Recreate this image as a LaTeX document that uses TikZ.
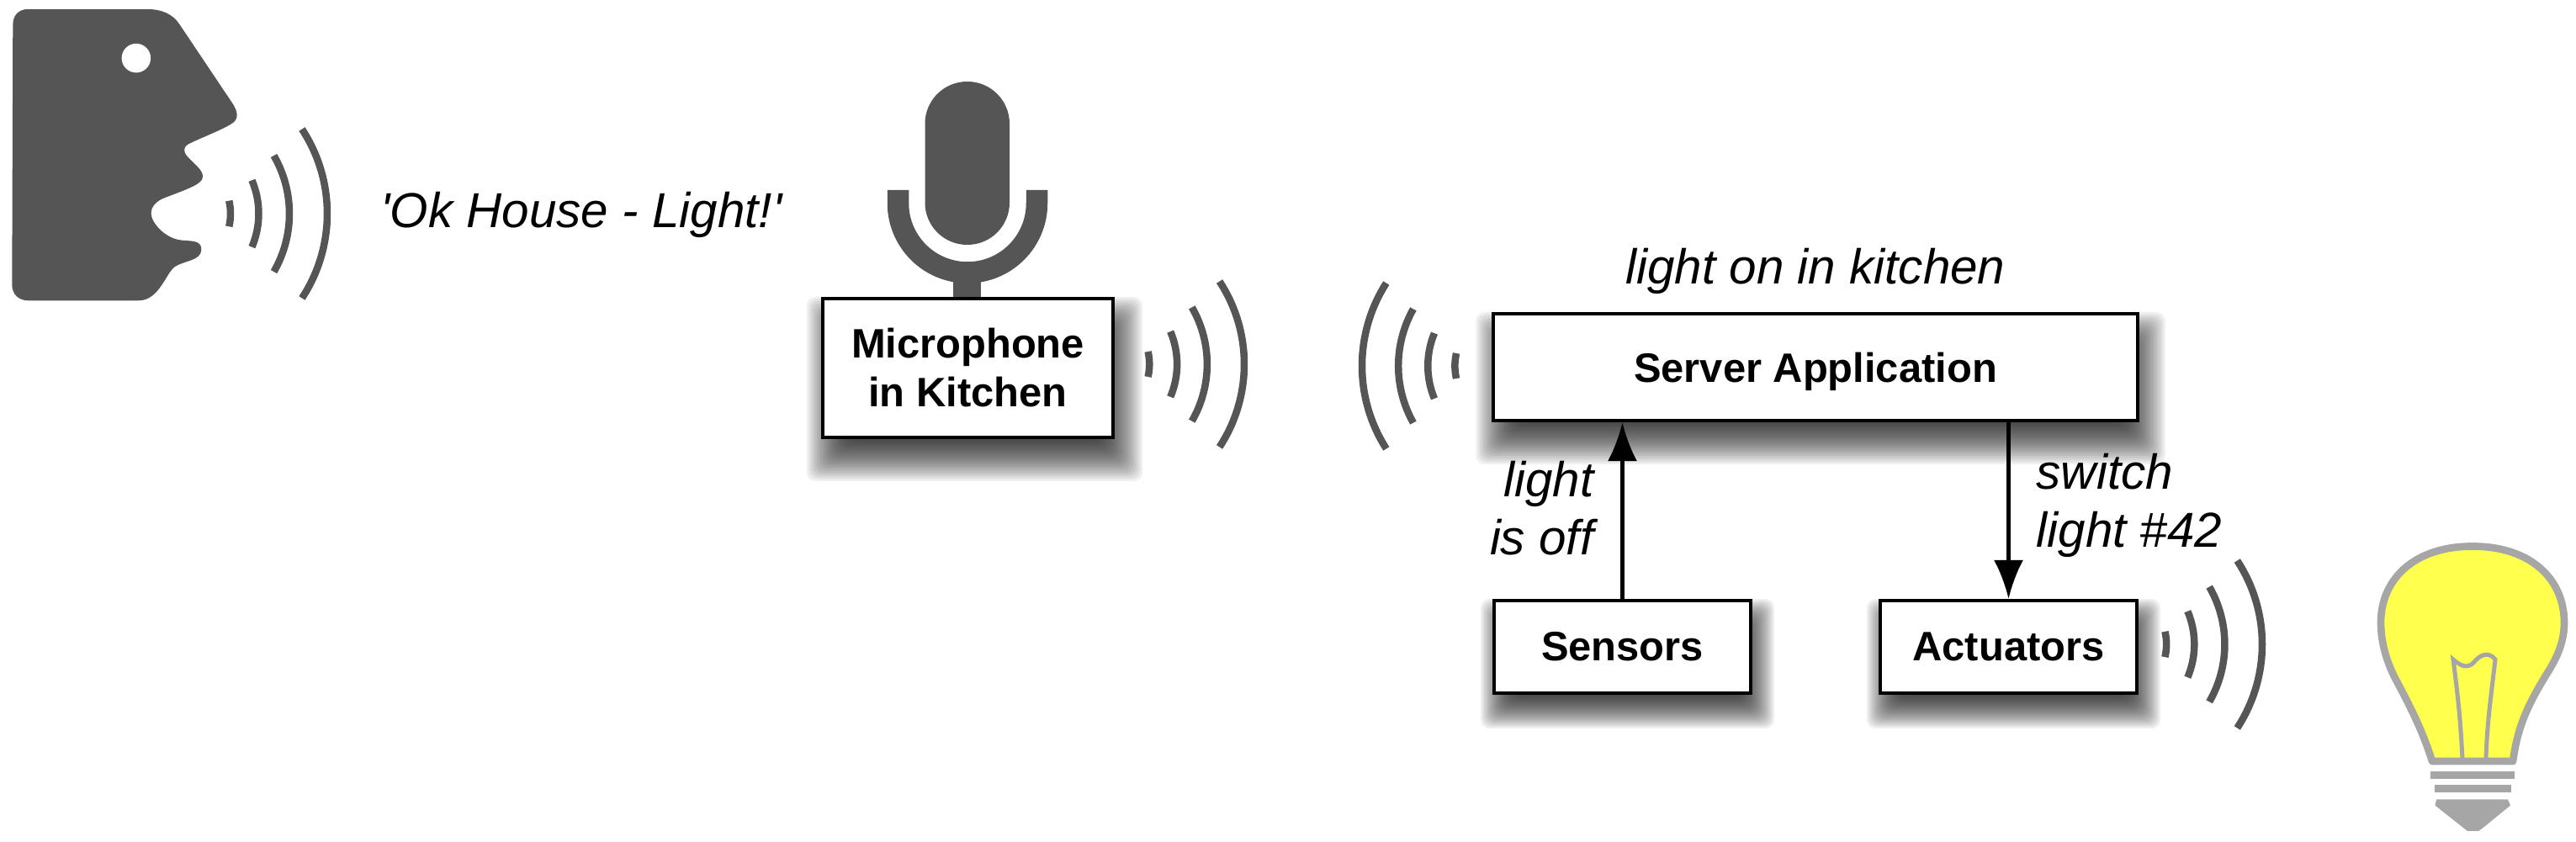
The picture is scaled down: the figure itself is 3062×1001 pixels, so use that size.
\documentclass[tikz,border=0pt]{standalone}
\usepackage{fontspec}
\setmainfont{Liberation Sans}
\usepackage{xcolor}
\usepackage{tikz}
\usetikzlibrary{arrows.meta,backgrounds}

\definecolor{icongray}{HTML}{555555}
\definecolor{bulbgray}{HTML}{A6A6A6}
\definecolor{bulbyellow}{HTML}{FFFF4D}

\newcommand{\softshadow}[4]{%
	\foreach \d in {-10,-9,...,10} {
		\fill[black, opacity=0.06, rounded corners=3pt]
			([shift={(#2-#4*\d/10,#3-#4*\d/10)}]#1.north west)
			rectangle ([shift={(#2+#4*\d/10,#3+#4*\d/10)}]#1.south east);
	}
}

\tikzset{
	box/.style={draw=black, fill=white, line width=1.15pt, font=\fontsize{13.9}{16.5}\selectfont\bfseries, align=center, inner sep=0pt},
	saying/.style={font=\fontsize{16.6}{19.5}\selectfont\itshape, inner sep=0pt},
	wavestroke/.style={draw=icongray, line width=0.085cm},
	flow/.style={line width=1.15pt, -{Latex[length=.46cm,width=.35cm]}},
	soundwave/.pic={
		\foreach \r/\a in {68/13,101.5/23,138/30,183/33.3} {
			\draw[wavestroke] ({-183+\r*cos(\a)},{-\r*sin(\a)}) arc[start angle=-\a, end angle=\a, radius=\r];
		}
	}
}

\begin{document}
\begin{tikzpicture}[x=0.01cm, y=-0.01cm]
\useasboundingbox (0,0) rectangle (3062,1001);

\begin{scope}[scale=.987]
\fill[icongray] (34,11) -- (176,11) .. controls (195,11) and (208,17) .. (216,29) -- (279,123)
	.. controls (288,136) and (287,144) .. (279,149) .. controls (268,156) and (245,165) .. (230,172)
	.. controls (220,176) and (220,183) .. (227,190) .. controls (236,199) and (246,207) .. (244,214)
	.. controls (243,222) and (225,228) .. (199,238) .. controls (188,242) and (182,249) .. (182,257)
	.. controls (182,268) and (198,286) .. (216,289) .. controls (228,291) and (243,288) .. (242.5,301)
	.. controls (242,314) and (222,314) .. (211,321) .. controls (200,328) and (192,362) .. (167,362)
	-- (34,362) .. controls (22,362) and (14.5,354) .. (14.5,343) -- (15.5,30)
	.. controls (15.5,18) and (23,11) .. (34,11) -- cycle;
\fill[white] (164,70) circle[radius=17.5];
\end{scope}

\pic at (389,254) {soundwave};
\pic[scale=.98] at (1479,433) {soundwave};
\pic[xscale=-.96, yscale=.98] at (1619,435) {soundwave};
\pic[scale=.99] at (2689,766) {soundwave};

\node[saying] (command) at (691,255) {\textquotesingle Ok House - Light!\textquotesingle};

\fill[icongray, rounded corners=.5cm] (1099.5,97) rectangle (1200,291);
\draw[icongray, line width=.255cm] (1067.5,226) -- (1067.5,241.5) arc[start angle=180, end angle=0, radius=82.5] -- (1232.5,226);
\fill[icongray] (1133,330) rectangle (1166,356);

\node[box, minimum width=3.45cm, minimum height=1.65cm] (mic) at (1150.5,437.5) {Microphone\\in Kitchen};
\node[box, minimum width=7.65cm, minimum height=1.27cm, text depth=0pt] (server) at (2158,436.5) {Server Application};
\node[box, minimum width=3.05cm, minimum height=1.1cm] (sensors) at (1928.5,769) {Sensors};
\node[box, minimum width=3.05cm, minimum height=1.1cm] (actuators) at (2387.5,769) {Actuators};

\begin{scope}[on background layer]
\softshadow{mic}{8}{25}{25}
\softshadow{server}{6}{25}{25}
\softshadow{sensors}{6}{20}{20}
\softshadow{actuators}{6}{20}{20}
\fill[white] (2570,690) rectangle (2640,890);
\end{scope}

\node[saying] (status) at (2158,322) {light on in kitchen};
\node[saying, align=right, anchor=east] (lightoff) at (1895,604) {light\\is off};
\node[saying, align=left, anchor=west] (switchlabel) at (2420,601) {switch\\light \#42};

\draw[flow] (sensors.north) -- (sensors.north |- server.south);
\draw[flow] (actuators.north |- server.south) -- (actuators.north);

\fill[bulbyellow, draw=bulbgray, line width=.087cm, line join=round] (2891,905) -- (2987,905)
	.. controls (2992,870) and (3000,845) .. (3028,800) .. controls (3042,778) and (3048,760) .. (3048,740)
	.. controls (3048,690) and (3010,649.5) .. (2939,649.5) .. controls (2868,649.5) and (2830,690) .. (2830,740)
	.. controls (2830,760) and (2835,785) .. (2850,812) .. controls (2866,842) and (2880,870) .. (2891,905) -- cycle;
\draw[bulbgray, line width=.05cm] (2927,903) .. controls (2925,860) and (2922,830) .. (2916,784)
	.. controls (2925,792) and (2933,795) .. (2940,788) .. controls (2948,778) and (2958,774) .. (2966,784)
	.. controls (2962,820) and (2956,860) .. (2955,903);
\fill[bulbgray] (2889,917) rectangle (2989,926);
\fill[bulbgray] (2893.5,933.5) rectangle (2985,942);
\fill[bulbgray] (2896,950.5) -- (2981,950.5) -- (2984,957.5) -- (2951,984.5) -- (2946,988) -- (2933,988) -- (2894.5,957.5) -- cycle;
\end{tikzpicture}
\end{document}
